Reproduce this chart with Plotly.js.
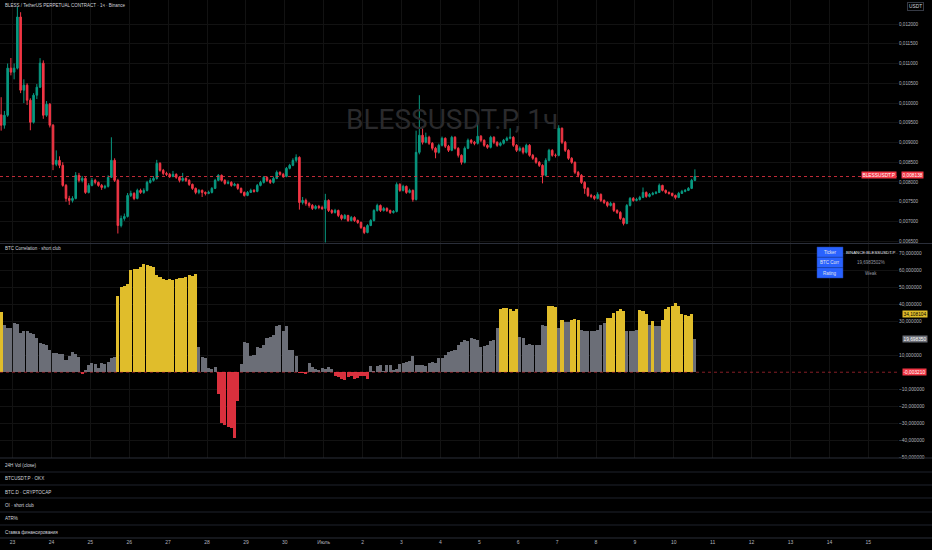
<!DOCTYPE html>
<html>
<head>
<meta charset="utf-8">
<script src="https://cdn.plot.ly/plotly-3.0.1.min.js"></script>
<style>
  html, body { margin: 0; padding: 0; background: #000; }
  #chart { width: 932px; height: 550px; }
</style>
</head>
<body>
<div id="chart"></div>
<script>
// 2h candles, prices in millionths of USDT
const firstOpen = 9700;
const closeMicro = [9437,9690,10883,10782,10883,12178,10325,10452,10071,9513,
  10198,10401,11010,9690,9970,9437,8447,8548,8421,7914,
  7584,7533,7584,8168,8041,8091,7736,7914,8041,7990,
  7914,7863,7889,8117,8548,8041,6898,7076,7127,7660,
  7711,7584,7787,7736,7787,7990,8041,8091,8472,8295,
  8218,8193,8142,8193,8117,8041,8091,8041,7939,7838,
  7736,7787,7736,7711,7736,7838,8041,8168,8041,7965,
  7990,7914,7939,7838,7736,7660,7736,7787,7762,7914,
  7990,8117,8041,7990,8091,8244,8193,8142,8345,8421,
  8548,8624,7482,7533,7457,7406,7330,7381,7355,7330,
  7533,7279,7228,7279,7152,7076,7152,7025,7101,7025,
  6974,6848,6721,6898,7025,7279,7406,7279,7330,7279,
  7228,7254,7939,7787,7889,7736,7787,7558,8751,9183,
  9005,9132,8980,8853,8751,8929,9107,8904,8802,9132,
  8853,8675,8498,8853,9056,9005,8980,9158,9056,8929,
  8878,9132,9005,8929,8980,9056,9107,9132,8929,8802,
  8853,8751,8929,8675,8599,8498,8421,8168,8548,8802,
  8675,8675,9361,9005,8802,8599,8498,8244,8168,7990,
  7838,7660,7635,7584,7686,7533,7482,7406,7457,7279,
  7228,7076,6949,7406,7584,7533,7558,7609,7736,7635,
  7686,7711,7736,7914,7787,7736,7711,7660,7609,7711,
  7762,7787,7838,8041,8138];
const highMicro = [10147,9800,11000,11140,11000,12431,12300,10600,10500,10120,
  10250,10480,11137,11080,10050,10000,9470,8800,8650,8500,
  7950,7650,7640,8250,8230,8150,8120,7970,8100,8080,
  8010,7950,7930,8170,9132,8600,8080,7150,7200,7720,
  7780,7740,7830,7830,7840,8030,8100,8150,8560,8500,
  8330,8260,8230,8280,8220,8150,8230,8120,8070,7960,
  7860,7820,7810,7760,7780,7870,8080,8200,8190,8070,
  8040,8020,7980,7960,7860,7760,7770,7830,7820,7950,
  8030,8150,8140,8070,8140,8290,8270,8230,8380,8460,
  8600,8700,8650,7620,7580,7490,7440,7420,7420,7400,
  7700,7560,7310,7320,7300,7180,7190,7170,7140,7130,
  7050,7000,6870,6930,7060,7310,7450,7430,7370,7360,
  7300,7290,7990,7970,7930,7910,7830,7810,9300,10198,
  9400,9250,9170,9010,8890,8970,9150,9130,8940,9170,
  9160,8880,8700,8900,9100,9090,9040,9640,9190,9080,
  8960,9170,9160,9030,9020,9090,9150,9360,9160,8960,
  8900,8890,8970,8960,8710,8630,8530,8450,8600,8840,
  8830,8720,9437,9380,9040,8830,8630,8520,8280,8200,
  8020,7870,7700,7670,7740,7710,7560,7510,7500,7480,
  7310,7260,7100,7440,7620,7620,7600,7650,7860,7760,
  7720,7750,7770,7960,7930,7810,7760,7730,7680,7750,
  7800,7820,7870,8080,8320];
const lowMicro = [9300,9350,9650,10700,10600,10850,10250,10000,9950,9310,
  9480,10100,10380,9600,9650,9380,8300,8400,8350,7880,
  7500,7420,7480,7560,7990,7990,7700,7710,7890,7940,
  7880,7800,7820,7860,8100,8000,6695,6850,7020,7100,
  7620,7540,7560,7700,7700,7760,7960,8010,8060,8260,
  8170,8150,8100,8120,8080,7990,8010,8000,7900,7800,
  7690,7690,7620,7660,7690,7710,7820,8020,8010,7930,
  7940,7880,7890,7800,7710,7630,7640,7720,7730,7740,
  7890,7960,8000,7950,7960,8070,8160,8100,8120,8320,
  8400,8500,7300,7430,7400,7350,7290,7300,7310,7290,
  6467,7240,7190,7200,7110,7030,7050,6990,7000,6990,
  6940,6810,6680,6700,6880,7000,7250,7240,7250,7240,
  7190,7200,7230,7750,7760,7700,7710,7500,7530,8700,
  8950,8980,8940,8800,8600,8720,8900,8860,8760,8780,
  8820,8620,8440,8470,8830,8960,8930,8950,9010,8890,
  8840,8850,8960,8890,8900,8950,9030,9080,8890,8760,
  8770,8700,8720,8640,8560,8460,8380,7965,8140,8520,
  8640,8620,8650,8960,8760,8560,8460,8200,8120,7950,
  7700,7620,7590,7540,7560,7490,7440,7360,7380,7240,
  7190,7040,6900,6930,7380,7500,7510,7530,7590,7600,
  7610,7660,7690,7720,7760,7700,7680,7630,7560,7590,
  7700,7740,7770,7820,8020];

// BTC correlation, %, same 2h bars
const btcCorr = [35.7,28,26,26,28.8,28.5,23,24.5,24,23,
  22.5,20,17,16.6,16.2,13,11.3,11.5,11,10.5,
  7,9.4,12,10.5,9,-1.2,1.5,4.5,5.5,5,
  2.5,5.5,5,6,8.5,9,45,50,51,52,
  60,61,60.5,62,63.5,63,62.5,62,57,56,
  55,54.5,54.8,54.6,55,55.2,55.5,56,57.5,56.5,
  58,15,9,8.4,2.5,2,3,-13,-29.6,-31,
  -32.5,-33,-39,-17,5,18,17,9.4,10,15,
  14,16,20,21,22,27,28,24,27,13,
  13,9.4,-0.5,-0.3,-0.8,5.5,3,2,1.5,2.5,
  2,3,2,-2,-3,-4,-4.5,-3,-2.5,-4,
  -3.5,-2.5,-2,-4,3.5,1,3.8,4,0.5,4,
  4.2,1.5,2,5,5.5,6,6.5,9.4,4,4.2,
  4,3.5,5.5,6,5.5,8.4,8.5,10,12,12.5,
  13,16,18,19,18.5,20,19.5,18.7,15,15.2,
  16,18.5,18.7,26,37,38,37.6,37.5,36,37,
  21,20,16,16.5,15.8,16.2,16,28,27,39,
  39,38.5,26,30.5,29.5,29.6,31,31.5,31,25,
  24.5,24,24.5,24,25,28,29,32,32,35,
  36,37,36,24,24,24.5,24.8,36.6,36,34,
  28,30.2,27,27,31,37,38.5,39,40.5,39,
  34,33.5,33,34,19.698];

const dayTicks = ['2025-06-23','2025-06-24','2025-06-25','2025-06-26','2025-06-27','2025-06-28',
  '2025-06-29','2025-06-30','2025-07-01','2025-07-02','2025-07-03','2025-07-04','2025-07-05',
  '2025-07-06','2025-07-07','2025-07-08','2025-07-09','2025-07-10','2025-07-11','2025-07-12',
  '2025-07-13','2025-07-14','2025-07-15'];
const dayLabels = ['23','24','25','26','27','28','29','30','Июль','2','3','4','5','6','7','8',
  '9','10','11','12','13','14','15'];
const priceTicks = [0.0065,0.007,0.0075,0.008,0.0085,0.009,0.0095,0.01,0.0105,0.011,0.0115,0.012];
// 0 and 20 sit under the value tags, as in the picture
const corrTicks = [-50,-40,-30,-20,-10,10,30,40,50,60,70];
const paneNames = ['24H Vol (close)','BTCUSDT.P · OKX','BTC.D · CRYPTOCAP','OI · short club','ATR%','Ставка финансирования'];

// build the series
const TWO_H = 2 * 3600 * 1000;
const t0 = Date.UTC(2025, 5, 22, 17);
const times = closeMicro.map((_, i) => new Date(t0 + i * TWO_H).toISOString().slice(0, 19).replace('T', ' '));
const close = closeMicro.map(v => v / 1e6);
const high = highMicro.map(v => v / 1e6);
const low = lowMicro.map(v => v / 1e6);
const open = [firstOpen / 1e6].concat(close.slice(0, -1));
const barColors = btcCorr.map(v => v < 0 ? '#d9303d' : (v >= 30 ? '#e0bd2b' : '#6b6e77'));

const W = 932, H = 550;
const px = x => x / W;
const py = y => 1 - y / H;
const plotRight = 898 / W;

const candles = {
  type: 'candlestick', x: times, open: open, high: high, low: low, close: close,
  xaxis: 'x', yaxis: 'y', whiskerwidth: 0, hoverinfo: 'skip',
  increasing: {line: {color: '#089981', width: 1}, fillcolor: '#089981'},
  decreasing: {line: {color: '#f23645', width: 1}, fillcolor: '#f23645'}
};
const corrBars = {
  type: 'bar', x: times, y: btcCorr, xaxis: 'x', yaxis: 'y2',
  width: TWO_H * 0.94, marker: {color: barColors, line: {width: 0}}, hoverinfo: 'skip'
};

function label(text, x, y, opts) {
  return Object.assign({
    text: text, xref: 'paper', yref: 'paper', x: px(x), y: py(y),
    xanchor: 'left', yanchor: 'middle', showarrow: false,
    font: {size: 5, color: '#b2b5be'}
  }, opts || {});
}
function tag(text, x, y, bg, fg, anchor) {
  return label(text, x, y, {xanchor: anchor || 'left', bgcolor: bg, borderpad: 0.5,
    font: {size: 4.8, color: fg}});
}
function hline(y, color) {
  return {type: 'line', xref: 'paper', yref: 'paper', x0: 0, x1: 1, y0: py(y), y1: py(y),
    line: {color: color, width: 1}};
}

const annotations = [
  label('BLESS / TetherUS PERPETUAL CONTRACT · 1ч · Binance', 3, 6, {font: {size: 4.5, color: '#d1d4dc'}}),
  label('BLESSUSDT.P, 1ч', 452, 120, {xanchor: 'center',
    font: {size: 28, color: '#2a2a2c', family: 'Liberation Sans Narrow, Roboto, Liberation Sans, sans-serif'}}),
  label('BTC Correlation · short club', 3, 248, {font: {size: 4.5, color: '#d1d4dc'}}),
  label('USDT', 915, 7, {xanchor: 'center', bordercolor: '#363a45', borderwidth: 1, borderpad: 1,
    font: {size: 4.8, color: '#d1d4dc'}}),
  tag('BLESSUSDT.P', 897, 175, '#f23645', '#ffffff', 'right'),
  tag('0,008138', 901, 175, '#f23645', '#ffffff'),
  tag('34,108104', 902, 314, '#e0bd2b', '#000000'),
  tag('19,698350', 902, 339, '#6b6e77', '#ffffff'),
  tag('-0,003210', 902, 372, '#f23645', '#ffffff'),
  label('Ticker', 830, 252, {xanchor: 'center', font: {size: 4.5, color: '#e0e3eb'}}),
  label('BTC Corr', 830, 262.5, {xanchor: 'center', font: {size: 4.5, color: '#e0e3eb'}}),
  label('Rating', 830, 273, {xanchor: 'center', font: {size: 4.5, color: '#e0e3eb'}}),
  label('BINANCE:BLESSUSDT.P', 871, 252, {xanchor: 'center', font: {size: 4.3, color: '#e0e3eb'}}),
  label('19,6983502%', 871, 262.5, {xanchor: 'center', font: {size: 4.5, color: '#9598a1'}}),
  label('Weak', 871, 273, {xanchor: 'center', font: {size: 4.5, color: '#9598a1'}})
];
const paneY = [465, 478, 492, 505, 518, 532];
paneNames.forEach((n, i) => annotations.push(label(n, 3, paneY[i], {font: {size: 4.6, color: '#d1d4dc'}})));

const shapes = [
  hline(243.5, '#2a2e39'), hline(458, '#2a2e39'), hline(472, '#1e222d'), hline(485, '#1e222d'),
  hline(498, '#1e222d'), hline(512, '#1e222d'), hline(525, '#1e222d'), hline(538, '#2a2e39'),
  {type: 'line', xref: 'paper', yref: 'y', x0: 0, x1: plotRight, y0: 0.008138, y1: 0.008138,
    line: {color: '#f23645', width: 0.8, dash: 'dot'}},
  {type: 'line', xref: 'paper', yref: 'y2', x0: 0, x1: plotRight, y0: 0, y1: 0,
    line: {color: 'rgba(242,54,69,0.7)', width: 0.8, dash: 'dot'}}
];
[[247, 257.3], [257.3, 267.7], [267.7, 278]].forEach(r => shapes.push({
  type: 'rect', xref: 'paper', yref: 'paper', x0: px(817), x1: px(843), y0: py(r[1]), y1: py(r[0]),
  fillcolor: '#2962ff', line: {color: '#1c3f9e', width: 0.5}
}));

const layout = {
  width: W, height: H, margin: {l: 0, r: 0, t: 0, b: 0},
  paper_bgcolor: '#000000', plot_bgcolor: '#000000',
  separators: ', ', showlegend: false, bargap: 0,
  font: {family: 'Liberation Sans, Arial, sans-serif', size: 5, color: '#b2b5be'},
  xaxis: {
    type: 'date', domain: [0, plotRight], anchor: 'free', position: py(538),
    range: ['2025-06-22 16:17', '2025-07-15 18:19'],
    tickvals: dayTicks, ticktext: dayLabels, tickfont: {size: 5, color: '#b2b5be'},
    ticks: '', showgrid: true, gridcolor: '#121212', gridwidth: 1,
    zeroline: false, showline: false, rangeslider: {visible: false}
  },
  yaxis: {
    domain: [py(243.5), 1], anchor: 'x', side: 'right',
    range: [0.006442, 0.012609], tickvals: priceTicks, tickformat: '.6f',
    ticks: '', tickfont: {size: 4.6, color: '#b2b5be'},
    showgrid: true, gridcolor: '#121212', zeroline: false, showline: false
  },
  yaxis2: {
    domain: [py(458), py(243.5)], anchor: 'x', side: 'right',
    range: [-50.5, 75.8], tickvals: corrTicks, tickformat: '.6f',
    ticks: '', tickfont: {size: 4.8, color: '#b2b5be'},
    showgrid: true, gridcolor: '#121212', zeroline: false, showline: false
  },
  annotations: annotations,
  shapes: shapes
};

Plotly.newPlot('chart', [corrBars, candles], layout, {staticPlot: true});
</script>
</body>
</html>
